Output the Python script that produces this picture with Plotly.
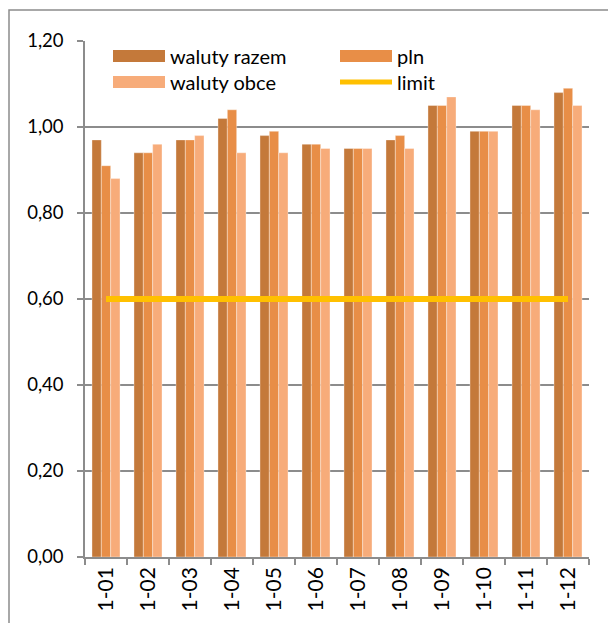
import plotly.graph_objects as go

# Monthly ratios by currency group
months = ["1-01", "1-02", "1-03", "1-04", "1-05", "1-06",
          "1-07", "1-08", "1-09", "1-10", "1-11", "1-12"]
waluty_razem = [0.97, 0.94, 0.97, 1.02, 0.98, 0.96, 0.95, 0.97, 1.05, 0.99, 1.05, 1.08]
pln = [0.91, 0.94, 0.97, 1.04, 0.99, 0.96, 0.95, 0.98, 1.05, 0.99, 1.05, 1.09]
waluty_obce = [0.88, 0.96, 0.98, 0.94, 0.94, 0.95, 0.95, 0.95, 1.07, 0.99, 1.04, 1.05]
limit = [0.60] * len(months)

y_ticks = [0.0, 0.2, 0.4, 0.6, 0.8, 1.0, 1.2]
y_tick_labels = ["0,00", "0,20", "0,40", "0,60", "0,80", "1,00", "1,20"]

C_RAZEM = "#C4793A"
C_PLN = "#E88E47"
C_OBCE = "#F7AC7A"
C_LIMIT = "#FFC000"
GRID = "#8C8C8C"
FONT = "Lato"

fig = go.Figure()
edge = dict(color="rgba(255,255,255,0.35)", width=1)
fig.add_trace(go.Bar(x=months, y=waluty_razem, name="waluty razem",
                     marker=dict(color=C_RAZEM, line=edge)))
fig.add_trace(go.Bar(x=months, y=pln, name="pln",
                     marker=dict(color=C_PLN, line=edge)))
fig.add_trace(go.Bar(x=months, y=waluty_obce, name="waluty obce",
                     marker=dict(color=C_OBCE, line=edge)))
fig.add_trace(go.Scatter(x=months, y=limit, name="limit", mode="lines",
                         line=dict(color=C_LIMIT, width=6)))

# Hand-drawn legend in two columns with wide swatches
L, T, H = 85, 41, 516  # plot origin/height in px for paper conversion
W = 504


def px_x(px):
    return (px - L) / W


def px_y(py):
    return (T + H - py) / H


legend_items = [
    ("waluty razem", C_RAZEM, "bar", 113, 56),
    ("pln", C_PLN, "bar", 340, 56),
    ("waluty obce", C_OBCE, "bar", 113, 82),
    ("limit", C_LIMIT, "line", 340, 82),
]
shapes = []
annotations = []
for label, color, kind, x0, yc in legend_items:
    if kind == "bar":
        shapes.append(dict(type="rect", xref="paper", yref="paper",
                           x0=px_x(x0), x1=px_x(x0 + 52),
                           y0=px_y(yc + 6), y1=px_y(yc - 6),
                           fillcolor=color, line=dict(width=0)))
    else:
        shapes.append(dict(type="line", xref="paper", yref="paper",
                           x0=px_x(x0), x1=px_x(x0 + 52),
                           y0=px_y(yc), y1=px_y(yc),
                           line=dict(color=color, width=5)))
    annotations.append(dict(text=label, xref="paper", yref="paper",
                            x=px_x(x0 + 55), y=px_y(yc), xanchor="left",
                            yanchor="middle", showarrow=False,
                            font=dict(family=FONT, size=20, color="#000000")))

# Outer chart frame
shapes.append(dict(type="rect", xref="paper", yref="paper",
                   x0=px_x(9), x1=px_x(700), y0=px_y(700), y1=px_y(10),
                   line=dict(color="#8C8C8C", width=1.5),
                   fillcolor="rgba(0,0,0,0)", layer="below"))

fig.update_layout(
    width=608, height=623,
    margin=dict(l=85, r=19, t=41, b=66),
    paper_bgcolor="white", plot_bgcolor="white",
    barmode="group", bargap=0.333, bargroupgap=0,
    showlegend=False,
    shapes=shapes, annotations=annotations,
    font=dict(family=FONT, size=16, color="#000000"),
)
fig.update_xaxes(
    type="category", tickangle=-90, tickson="boundaries",
    ticks="outside", ticklen=6, tickcolor=GRID, tickwidth=1.5,
    showline=True, linecolor=GRID, linewidth=1.5,
    showgrid=False, tickfont=dict(family=FONT, size=21),
)
fig.update_yaxes(
    range=[0, 1.2], tickvals=y_ticks, ticktext=y_tick_labels,
    ticks="outside", ticklen=6, tickcolor=GRID, tickwidth=1.5,
    showline=True, linecolor=GRID, linewidth=1.5,
    showgrid=True, gridcolor=GRID, gridwidth=1.5, zeroline=False,
    tickfont=dict(family=FONT, size=18.5), ticklabelstandoff=10,
)

fig.write_html("out.html")
